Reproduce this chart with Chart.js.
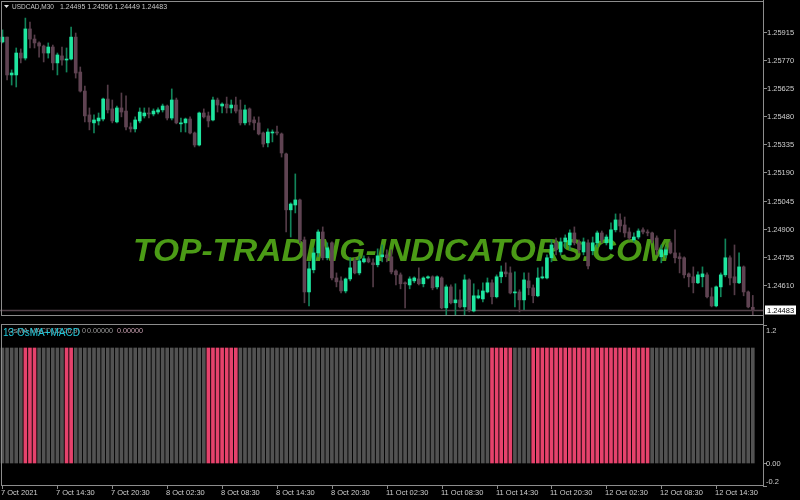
<!DOCTYPE html>
<html>
<head>
<meta charset="utf-8">
<title>USDCAD M30 with OsMA MACD</title>
<script src="https://cdn.jsdelivr.net/npm/chart.js@4.4.1/dist/chart.umd.min.js"></script>
<style>
  html, body { margin: 0; padding: 0; background: #000; }
  #wrap { position: relative; width: 800px; height: 500px; background: #000; overflow: hidden; }
  canvas { position: absolute; left: 0; }
  #priceChart { top: 0; }
  #oscChart { top: 320px; }
</style>
</head>
<body>
<div id="wrap">
  <canvas id="priceChart" width="800" height="320"></canvas>
  <canvas id="oscChart" width="800" height="180"></canvas>
</div>
<script>
// USDCAD M30 candles, 7 Oct 08:30 .. 12 Oct 18:30
const openP = [
  1.25862, 1.25887, 1.25692, 1.25692, 1.25805, 1.25779, 1.25929, 1.25877, 1.25857, 1.25841,
  1.25805, 1.25836, 1.25754, 1.25790, 1.25769, 1.25774, 1.25887, 1.25707, 1.25609, 1.25486,
  1.25445, 1.25455, 1.25465, 1.25568, 1.25517, 1.25450, 1.25522, 1.25506, 1.25424, 1.25414,
  1.25455, 1.25481, 1.25496, 1.25491, 1.25501, 1.25512, 1.25532, 1.25470, 1.25563, 1.25440,
  1.25445, 1.25465, 1.25393, 1.25331, 1.25496, 1.25481, 1.25460, 1.25563, 1.25532, 1.25542,
  1.25522, 1.25537, 1.25512, 1.25445, 1.25517, 1.25460, 1.25445, 1.25393, 1.25342, 1.25393,
  1.25398, 1.25388, 1.25285, 1.24997, 1.25022, 1.25048, 1.24842, 1.24574, 1.24688, 1.24775,
  1.24883, 1.24750, 1.24827, 1.24646, 1.24631, 1.24579, 1.24641, 1.24734, 1.24672, 1.24729,
  1.24745, 1.24724, 1.24714, 1.24755, 1.24765, 1.24755, 1.24682, 1.24662, 1.24621, 1.24610,
  1.24631, 1.24641, 1.24616, 1.24646, 1.24652, 1.24600, 1.24646, 1.24492, 1.24600, 1.24518,
  1.24533, 1.24497, 1.24636, 1.24476, 1.24543, 1.24538, 1.24574, 1.24621, 1.24549, 1.24652,
  1.24677, 1.24672, 1.24569, 1.24574, 1.24533, 1.24631, 1.24595, 1.24554, 1.24646, 1.24646,
  1.24750, 1.24827, 1.24780, 1.24832, 1.24816, 1.24878, 1.24827, 1.24780, 1.24827, 1.24786,
  1.24827, 1.24878, 1.24827, 1.24796, 1.24894, 1.24945, 1.24919, 1.24883, 1.24842, 1.24857,
  1.24894, 1.24883, 1.24878, 1.24852, 1.24755, 1.24765, 1.24827, 1.24775, 1.24755, 1.24750,
  1.24667, 1.24652, 1.24621, 1.24652, 1.24662, 1.24549, 1.24502, 1.24600, 1.24662, 1.24750,
  1.24652, 1.24621, 1.24703, 1.24574, 1.24495
];
const highP = [
  1.25924, 1.25887, 1.25718, 1.25831, 1.25826, 1.25985, 1.25965, 1.25898, 1.25862, 1.25846,
  1.25857, 1.25846, 1.25805, 1.25836, 1.25831, 1.25939, 1.25908, 1.25733, 1.25635, 1.25522,
  1.25486, 1.25496, 1.25573, 1.25640, 1.25563, 1.25532, 1.25599, 1.25584, 1.25445, 1.25476,
  1.25522, 1.25522, 1.25522, 1.25517, 1.25522, 1.25542, 1.25537, 1.25620, 1.25573, 1.25470,
  1.25470, 1.25476, 1.25398, 1.25501, 1.25517, 1.25501, 1.25578, 1.25573, 1.25548, 1.25578,
  1.25563, 1.25578, 1.25563, 1.25537, 1.25522, 1.25476, 1.25476, 1.25398, 1.25414, 1.25409,
  1.25429, 1.25393, 1.25290, 1.25033, 1.25182, 1.25053, 1.24857, 1.24729, 1.24801, 1.24894,
  1.24909, 1.24827, 1.24832, 1.24672, 1.24652, 1.24646, 1.24750, 1.24750, 1.24755, 1.24760,
  1.24755, 1.24745, 1.24796, 1.24816, 1.24791, 1.24791, 1.24688, 1.24672, 1.24626, 1.24652,
  1.24652, 1.24698, 1.24652, 1.24657, 1.24657, 1.24657, 1.24652, 1.24610, 1.24610, 1.24616,
  1.24585, 1.24662, 1.24641, 1.24616, 1.24585, 1.24621, 1.24646, 1.24636, 1.24662, 1.24708,
  1.24724, 1.24703, 1.24677, 1.24585, 1.24672, 1.24672, 1.24610, 1.24698, 1.24703, 1.24765,
  1.24842, 1.24852, 1.24852, 1.24868, 1.24894, 1.24909, 1.24842, 1.24852, 1.24842, 1.24857,
  1.24888, 1.24888, 1.24868, 1.24930, 1.24976, 1.24976, 1.24960, 1.24904, 1.24878, 1.24899,
  1.24904, 1.24894, 1.24883, 1.24863, 1.24816, 1.24806, 1.24837, 1.24894, 1.24775, 1.24755,
  1.24672, 1.24703, 1.24677, 1.24703, 1.24672, 1.24595, 1.24605, 1.24672, 1.24847, 1.24760,
  1.24816, 1.24775, 1.24708, 1.24579, 1.24556
];
const lowP = [
  1.25857, 1.25666, 1.25640, 1.25630, 1.25754, 1.25769, 1.25831, 1.25831, 1.25784, 1.25759,
  1.25779, 1.25718, 1.25692, 1.25743, 1.25707, 1.25769, 1.25676, 1.25604, 1.25450, 1.25409,
  1.25393, 1.25434, 1.25455, 1.25496, 1.25445, 1.25445, 1.25476, 1.25409, 1.25398, 1.25398,
  1.25445, 1.25470, 1.25470, 1.25481, 1.25491, 1.25501, 1.25460, 1.25460, 1.25440, 1.25398,
  1.25398, 1.25388, 1.25321, 1.25326, 1.25470, 1.25424, 1.25455, 1.25501, 1.25496, 1.25496,
  1.25496, 1.25496, 1.25434, 1.25434, 1.25434, 1.25409, 1.25383, 1.25321, 1.25321, 1.25347,
  1.25383, 1.25269, 1.24883, 1.24857, 1.24981, 1.24827, 1.24518, 1.24502, 1.24672, 1.24755,
  1.24739, 1.24739, 1.24636, 1.24600, 1.24569, 1.24569, 1.24631, 1.24667, 1.24662, 1.24724,
  1.24724, 1.24600, 1.24703, 1.24729, 1.24729, 1.24667, 1.24610, 1.24590, 1.24492, 1.24590,
  1.24621, 1.24610, 1.24600, 1.24641, 1.24585, 1.24590, 1.24487, 1.24456, 1.24512, 1.24456,
  1.24492, 1.24456, 1.24471, 1.24471, 1.24538, 1.24523, 1.24569, 1.24512, 1.24543, 1.24621,
  1.24652, 1.24564, 1.24497, 1.24471, 1.24482, 1.24559, 1.24518, 1.24549, 1.24641, 1.24641,
  1.24729, 1.24765, 1.24765, 1.24801, 1.24791, 1.24816, 1.24775, 1.24765, 1.24693, 1.24765,
  1.24806, 1.24827, 1.24816, 1.24791, 1.24883, 1.24883, 1.24857, 1.24842, 1.24832, 1.24847,
  1.24873, 1.24863, 1.24827, 1.24765, 1.24724, 1.24750, 1.24770, 1.24724, 1.24672, 1.24646,
  1.24600, 1.24569, 1.24616, 1.24600, 1.24543, 1.24497, 1.24497, 1.24549, 1.24652, 1.24610,
  1.24559, 1.24616, 1.24554, 1.24492, 1.24449
];
const closeP = [
  1.25887, 1.25692, 1.25702, 1.25805, 1.25779, 1.25929, 1.25877, 1.25857, 1.25841, 1.25805,
  1.25836, 1.25754, 1.25795, 1.25769, 1.25774, 1.25887, 1.25702, 1.25609, 1.25481, 1.25450,
  1.25460, 1.25470, 1.25568, 1.25512, 1.25455, 1.25522, 1.25501, 1.25424, 1.25414, 1.25460,
  1.25501, 1.25496, 1.25491, 1.25506, 1.25512, 1.25532, 1.25470, 1.25563, 1.25445, 1.25445,
  1.25465, 1.25393, 1.25331, 1.25496, 1.25476, 1.25455, 1.25563, 1.25537, 1.25542, 1.25522,
  1.25537, 1.25506, 1.25445, 1.25512, 1.25450, 1.25445, 1.25388, 1.25336, 1.25398, 1.25398,
  1.25393, 1.25290, 1.24997, 1.25027, 1.25048, 1.24842, 1.24574, 1.24693, 1.24775, 1.24883,
  1.24750, 1.24801, 1.24646, 1.24626, 1.24579, 1.24641, 1.24698, 1.24672, 1.24734, 1.24745,
  1.24729, 1.24714, 1.24760, 1.24765, 1.24750, 1.24677, 1.24662, 1.24616, 1.24616, 1.24641,
  1.24646, 1.24616, 1.24646, 1.24652, 1.24595, 1.24652, 1.24492, 1.24600, 1.24518, 1.24533,
  1.24497, 1.24636, 1.24482, 1.24554, 1.24554, 1.24579, 1.24621, 1.24549, 1.24652, 1.24677,
  1.24667, 1.24569, 1.24574, 1.24533, 1.24636, 1.24595, 1.24554, 1.24646, 1.24652, 1.24750,
  1.24816, 1.24791, 1.24832, 1.24852, 1.24878, 1.24827, 1.24791, 1.24832, 1.24708, 1.24827,
  1.24878, 1.24842, 1.24857, 1.24894, 1.24945, 1.24914, 1.24878, 1.24852, 1.24857, 1.24888,
  1.24883, 1.24878, 1.24842, 1.24791, 1.24791, 1.24791, 1.24775, 1.24750, 1.24745, 1.24662,
  1.24652, 1.24621, 1.24662, 1.24667, 1.24549, 1.24502, 1.24600, 1.24662, 1.24750, 1.24646,
  1.24621, 1.24703, 1.24574, 1.24497, 1.24483
];

// price scale labels on the right
const priceTicks = [1.25915, 1.25770, 1.25625, 1.25480, 1.25335, 1.25190, 1.25045, 1.24900, 1.24755, 1.24610];

// time axis: bar index of each label and its text
const timeTickBars = [0, 12, 24, 36, 48, 60, 72, 84, 96, 108, 120, 132, 144, 156];
const timeTickLabels = ["7 Oct 2021", "7 Oct 14:30", "7 Oct 20:30", "8 Oct 02:30", "8 Oct 08:30",
  "8 Oct 14:30", "8 Oct 20:30", "11 Oct 02:30", "11 Oct 08:30", "11 Oct 14:30", "11 Oct 20:30",
  "12 Oct 02:30", "12 Oct 08:30", "12 Oct 14:30"];

// OsMA+MACD histogram: every bar is 1, colour runs alternate gray / pink starting gray
const histRuns = [5, 3, 6, 2, 29, 7, 55, 5, 4, 26, 23];
const histLevel = 1;
const oscTicks = [1.2, 0, -0.2];
const oscTickLabels = ["1.2", "0.00", "-0.2"];

const symbolTitle = "USDCAD,M30";
const ohlcTitle = "1.24495 1.24556 1.24449 1.24483";
const watermark = "TOP-TRADING-INDICATORS.COM";

// colours
const bullBody = '#1fe6a0';
const bearBody = '#5f4352';
const bullWick = '#12845a';
const bearWick = '#543c48';
const frameColor = '#8c8c8c';
const axisText = '#cfcfcf';
const grayBar = '#525252';
const pinkBar = '#e6426c';

const bars = openP.map((_, i) => i);
const isBull = bars.map(i => closeP[i] >= openP[i]);

// histogram colour per bar
const histPink = [];
histRuns.forEach((n, r) => {
    for (let k = 0; k < n; k++) histPink.push(r % 2 === 1);
});

// same horizontal mapping for both panes (bar 0 sits at x=2.5, 4.575px per bar)
const xScale = { type: 'linear', min: -0.546, max: 166.23, offset: false, display: false };
const font = (size, extra) => (extra ? extra + ' ' : '') + size + 'px "Liberation Sans", Arial, sans-serif';

const pricePanel = {
    id: 'pricePanel',
    beforeDatasetsDraw(chart) {
        const { ctx, chartArea: a, scales: { y } } = chart;
        // watermark sits under the candles
        ctx.save();
        ctx.font = font(32, 'italic bold');
        ctx.fillStyle = '#4b9b16';
        ctx.textBaseline = 'alphabetic';
        const w = ctx.measureText(watermark).width;
        ctx.translate(133, 261);
        ctx.scale(537 / w, 1);
        ctx.fillText(watermark, 0, 0);
        ctx.restore();

        // bid line
        const yb = Math.round(y.getPixelForValue(closeP[closeP.length - 1])) + 0.5;
        ctx.save();
        ctx.strokeStyle = '#54434b';
        ctx.lineWidth = 1.5;
        ctx.beginPath();
        ctx.moveTo(a.left, yb);
        ctx.lineTo(a.right, yb);
        ctx.stroke();
        ctx.restore();
    },
    afterDraw(chart) {
        const { ctx, scales: { y } } = chart;
        ctx.save();
        ctx.strokeStyle = frameColor;
        ctx.lineWidth = 1;
        ctx.strokeRect(1.5, 1.5, 762, 314);
        ctx.beginPath();
        ctx.moveTo(763.5, 0);
        ctx.lineTo(763.5, 320);
        ctx.stroke();

        ctx.font = font(7.5);
        ctx.textAlign = 'left';
        ctx.textBaseline = 'middle';
        ctx.fillStyle = axisText;
        priceTicks.forEach(v => {
            const py = Math.round(y.getPixelForValue(v)) + 0.5;
            ctx.beginPath();
            ctx.moveTo(763, py);
            ctx.lineTo(767, py);
            ctx.stroke();
            ctx.fillText(v.toFixed(5), 767, py);
        });

        // current price marker
        const last = closeP[closeP.length - 1];
        const by = Math.round(y.getPixelForValue(last));
        ctx.fillStyle = '#ffffff';
        ctx.fillRect(765, by - 4.5, 31, 9);
        ctx.fillStyle = '#000000';
        ctx.fillText(last.toFixed(5), 767, by + 0.5);

        // header
        ctx.fillStyle = '#e0e0e0';
        ctx.beginPath();
        ctx.moveTo(4, 5);
        ctx.lineTo(9, 5);
        ctx.lineTo(6.5, 8);
        ctx.closePath();
        ctx.fill();
        ctx.fillStyle = '#c8c8c8';
        ctx.font = font(6.5);
        ctx.fillText(symbolTitle, 12, 7);
        ctx.font = font(7);
        ctx.fillText(ohlcTitle, 60, 7);
        ctx.restore();
    }
};

const oscPanel = {
    id: 'oscPanel',
    afterDraw(chart) {
        const { ctx, chartArea: a, scales: { x, y } } = chart;
        ctx.save();
        ctx.strokeStyle = frameColor;
        ctx.lineWidth = 1;
        ctx.strokeRect(1.5, 4.5, 762, 161);
        ctx.beginPath();
        ctx.moveTo(763.5, 0);
        ctx.lineTo(763.5, 166);
        ctx.stroke();

        ctx.font = font(7.5);
        ctx.textAlign = 'left';
        ctx.textBaseline = 'middle';
        ctx.fillStyle = axisText;
        oscTicks.forEach((v, k) => {
            const py = Math.round(y.getPixelForValue(v)) + 0.5;
            ctx.beginPath();
            ctx.moveTo(763, py);
            ctx.lineTo(767, py);
            ctx.stroke();
            const ly = Math.min(Math.max(py, a.top + 6), a.bottom - 4);
            ctx.fillText(oscTickLabels[k], 766, ly);
        });

        // time axis
        timeTickBars.forEach((b, k) => {
            const px = Math.round(x.getPixelForValue(b)) + 0.5;
            ctx.beginPath();
            ctx.moveTo(px, 166);
            ctx.lineTo(px, 169);
            ctx.stroke();
            ctx.fillText(timeTickLabels[k], px - 1.5, 173);
        });

        // indicator header
        ctx.font = font(7.2);
        ctx.fillStyle = '#9a9a9a';
        ctx.textAlign = 'right';
        ctx.fillText("OsMA MACD(12,26,9) 0", 86, 11.5);
        ctx.textAlign = 'left';
        ctx.fillText("0.00000", 87, 11.5);
        ctx.fillStyle = '#c8a0b0';
        ctx.fillText("0.00000", 117, 11.5);
        ctx.font = font(10);
        ctx.fillStyle = '#22c6d8';
        ctx.fillText("13 OsMA+MACD", 3, 13);
        ctx.restore();
    }
};

new Chart(document.getElementById('priceChart'), {
    type: 'bar',
    data: {
        datasets: [
            {
                label: 'body',
                data: bars.map(i => ({ x: i, y: [openP[i], closeP[i]] })),
                backgroundColor: bars.map(i => isBull[i] ? bullBody : bearBody),
                barThickness: 3,
                minBarLength: 1,
                grouped: false,
                order: 0
            },
            {
                label: 'wick',
                data: bars.map(i => ({ x: i, y: [lowP[i], highP[i]] })),
                backgroundColor: bars.map(i => isBull[i] ? bullWick : bearWick),
                barThickness: 1,
                grouped: false,
                order: 1
            }
        ]
    },
    options: {
        responsive: false,
        animation: false,
        devicePixelRatio: 1,
        layout: { padding: { left: 0, right: 37, top: 1, bottom: 4 } },
        scales: {
            x: xScale,
            y: { type: 'linear', min: 1.24450, max: 1.26073, display: false }
        },
        plugins: { legend: { display: false }, tooltip: { enabled: false } }
    },
    plugins: [pricePanel]
});

new Chart(document.getElementById('oscChart'), {
    type: 'bar',
    data: {
        datasets: [
            {
                label: 'OsMA+MACD',
                data: bars.map(i => ({ x: i, y: histLevel })),
                backgroundColor: bars.map(i => histPink[i] ? pinkBar : grayBar),
                barThickness: 3,
                grouped: false
            }
        ]
    },
    options: {
        responsive: false,
        animation: false,
        devicePixelRatio: 1,
        layout: { padding: { left: 0, right: 37, top: 5, bottom: 14 } },
        scales: {
            x: xScale,
            y: { type: 'linear', min: -0.2, max: 1.2, display: false }
        },
        plugins: { legend: { display: false }, tooltip: { enabled: false } }
    },
    plugins: [oscPanel]
});
</script>
</body>
</html>
